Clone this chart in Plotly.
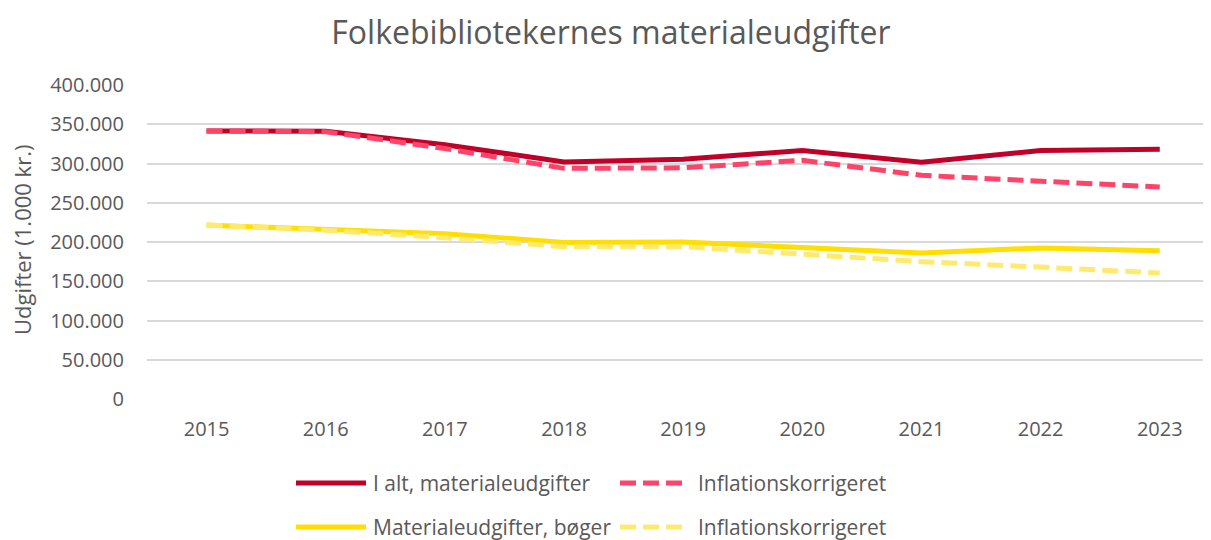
import plotly.graph_objects as go

years = ["2015", "2016", "2017", "2018", "2019", "2020", "2021", "2022", "2023"]
total = [341500, 341000, 324000, 302000, 305500, 316500, 301500, 316500, 318000]
total_infl = [341500, 340500, 319000, 293800, 294500, 304000, 285000, 278000, 270000]
books = [221500, 216000, 210500, 199500, 200000, 193000, 186000, 192500, 189000]
books_infl = [221500, 215000, 205500, 194000, 194000, 184500, 175000, 168000, 160500]
y_ticks = [0, 50000, 100000, 150000, 200000, 250000, 300000, 350000, 400000]

RED = "#C00029"
RED_D = "#FF4369"
YEL = "#FFDE00"
YEL_D = "#FFEA70"
TXT = "#595959"
FONT = "Open Sans"

OFF = 8  # browser body margin
FW, FH = 1211 - OFF, 540 - OFF

fig = go.Figure()
fig.add_trace(go.Scatter(x=years, y=total, mode="lines", name="I alt, materialeudgifter",
                         line=dict(color=RED, width=5)))
fig.add_trace(go.Scatter(x=years, y=total_infl, mode="lines", name="Inflationskorrigeret",
                         line=dict(color=RED_D, width=5, dash="16px,7px")))
fig.add_trace(go.Scatter(x=years, y=books, mode="lines", name="Materialeudgifter, bøger",
                         line=dict(color=YEL, width=5)))
fig.add_trace(go.Scatter(x=years, y=books_infl, mode="lines", name="Inflationskorrigeret",
                         line=dict(color=YEL_D, width=5, dash="16px,7px")))

# reference pixel geometry (page coordinates)
L, R = 147, 1211
T, B = 85, 399
W = R - L
H = B - T

def px(x):
    return (x - L) / W

def py(y):
    return (B - y) / H

shapes = []
annotations = []
legend_items = [
    (296, 366, 483, RED, "solid", 371, "I alt, materialeudgifter"),
    (620, 686, 483, RED_D, "16px,7px", 696, "Inflationskorrigeret"),
    (296, 366, 527, YEL, "solid", 371, "Materialeudgifter, bøger"),
    (620, 686, 527, YEL_D, "16px,7px", 696, "Inflationskorrigeret"),
]
for x0, x1, yy, col, dash, tx, label in legend_items:
    shapes.append(dict(type="line", xref="paper", yref="paper", x0=px(x0), x1=px(x1),
                       y0=py(yy), y1=py(yy), line=dict(color=col, width=5, dash=dash)))
    annotations.append(dict(xref="paper", yref="paper", x=px(tx), y=py(yy), text=label,
                            showarrow=False, xanchor="left", yanchor="middle",
                            font=dict(family=FONT, size=21, color=TXT)))

annotations.append(dict(xref="paper", yref="paper", x=px(22), y=py(240),
                        text="Udgifter (1.000 kr.)", textangle=-90, showarrow=False,
                        xanchor="center", yanchor="middle",
                        font=dict(family=FONT, size=22, color=TXT)))

fig.update_layout(
    width=FW, height=FH,
    margin=dict(l=L - OFF, r=0, t=T - OFF, b=FH - (B - OFF), pad=0),
    paper_bgcolor="white", plot_bgcolor="white",
    separators=",.",
    showlegend=False,
    title=dict(text="Folkebibliotekernes materialeudgifter", x=(611 - OFF) / FW, xref="container",
               xanchor="center", y=1 - (33 - OFF) / FH, yref="container", yanchor="middle",
               font=dict(family=FONT, size=32, color=TXT)),
    font=dict(family=FONT, color=TXT),
    xaxis=dict(type="category", range=[-0.5, 8.43], showgrid=False, zeroline=False,
               showline=False, ticks="", tickfont=dict(family=FONT, size=20, color=TXT),
               ticklabelstandoff=16),
    yaxis=dict(range=[0, 400000], tickvals=y_ticks, tickformat=",d", showgrid=True,
               gridcolor="#D9D9D9", gridwidth=1.5, zeroline=False, showline=False, ticks="",
               tickfont=dict(family=FONT, size=20, color=TXT), ticklabelstandoff=22),
    shapes=shapes,
    annotations=annotations,
)

fig.write_html("out.html")
